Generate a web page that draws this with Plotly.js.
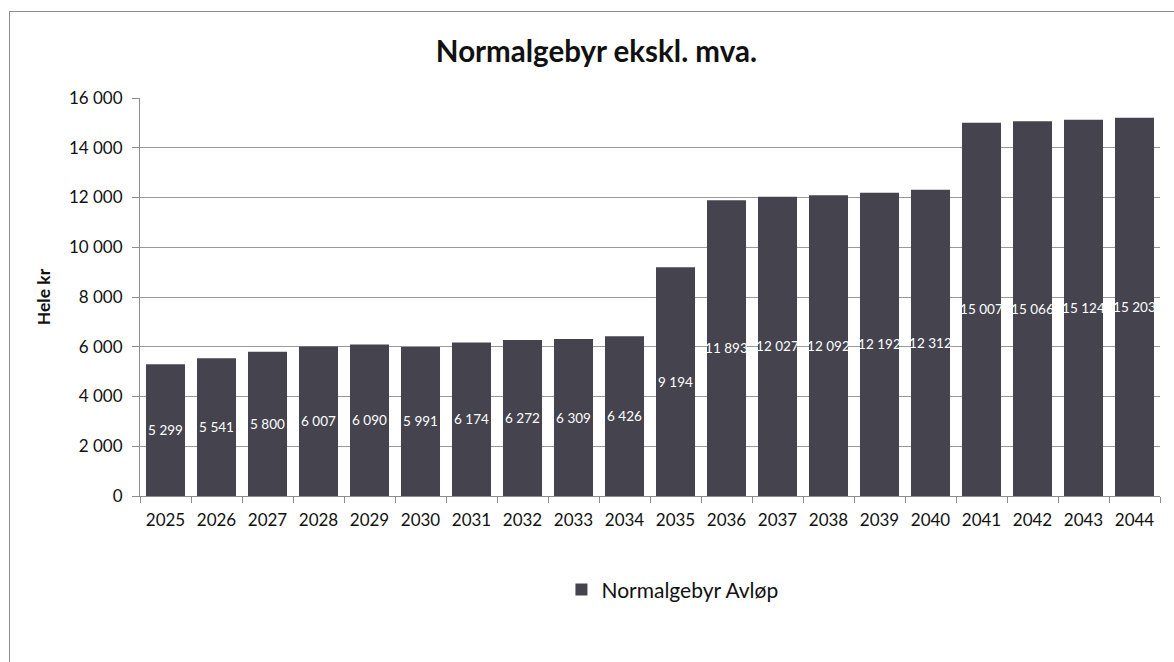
<!DOCTYPE html>
<html>
<head>
<meta charset="utf-8">
<script src="https://cdn.plot.ly/plotly-3.0.1.min.js"></script>
<style>
html,body{margin:0;padding:0;background:#fff;overflow:hidden;}
#chart{width:1174px;height:662px;position:absolute;left:0;top:0;}
#frame{position:absolute;left:9px;top:11px;width:1200px;height:700px;border:1px solid #8c8c8c;pointer-events:none;box-sizing:border-box;}
</style>
</head>
<body>
<div id="chart"></div>
<div id="frame"></div>
<script>
const years = ["2025","2026","2027","2028","2029","2030","2031","2032","2033","2034","2035","2036","2037","2038","2039","2040","2041","2042","2043","2044"];
const normalgebyrAvlop = [5299,5541,5800,6007,6090,5991,6174,6272,6309,6426,9194,11893,12027,12092,12192,12312,15007,15066,15124,15203];
const yTicks = [0,2000,4000,6000,8000,10000,12000,14000,16000];

const font = "Lato, 'Open Sans', sans-serif";
const trace = {
  type: 'bar',
  x: years,
  y: normalgebyrAvlop,
  name: 'Normalgebyr Avløp',
  marker: {color: '#45444e'},
  texttemplate: '%{y:,}',
  textposition: 'inside',
  insidetextanchor: 'middle',
  textangle: 0,
  constraintext: 'none',
  cliponaxis: false,
  textfont: {color: '#ffffff', size: 13.5, family: font},
  hoverinfo: 'x+y'
};
const layout = {
  width: 1174, height: 662,
  margin: {l: 140, r: 14, t: 98, b: 166},
  paper_bgcolor: '#ffffff', plot_bgcolor: '#ffffff',
  separators: ', ',
  bargap: 0.235,
  font: {family: font, color: '#222'},
  title: {text: '<b>Normalgebyr ekskl. mva.</b>', x: 0.508, xanchor: 'center', y: 0.922, yanchor: 'middle', font: {size: 29.5, color: '#111', family: font}},
  xaxis: {
    type: 'category',
    showline: true, linecolor: '#8c8c8c', linewidth: 1,
    ticks: 'outside', tickson: 'boundaries', ticklen: 6, tickcolor: '#8c8c8c',
    ticklabelstandoff: 9,
    tickfont: {size: 17, color: '#111', family: font},
    showgrid: false
  },
  yaxis: {
    range: [0, 16000],
    tickvals: yTicks,
    tickformat: ',d',
    showline: true, linecolor: '#8c8c8c', linewidth: 1,
    ticks: 'outside', ticklen: 7, tickcolor: '#8c8c8c',
    ticklabelstandoff: 6,
    gridcolor: '#999999', gridwidth: 1,
    zeroline: false,
    tickfont: {size: 17, color: '#111', family: font},
    title: {text: '<b>Hele kr</b>', font: {size: 17.5, color: '#111', family: font}, standoff: 13}
  },
  showlegend: true,
  legend: {x: 0.522, xanchor: 'center', y: -0.236, yanchor: 'middle', orientation: 'h', font: {size: 21, color: '#111', family: font}, itemwidth: 30}
};
Plotly.newPlot('chart', [trace], layout, {displayModeBar: false, staticPlot: true});
</script>
</body>
</html>
